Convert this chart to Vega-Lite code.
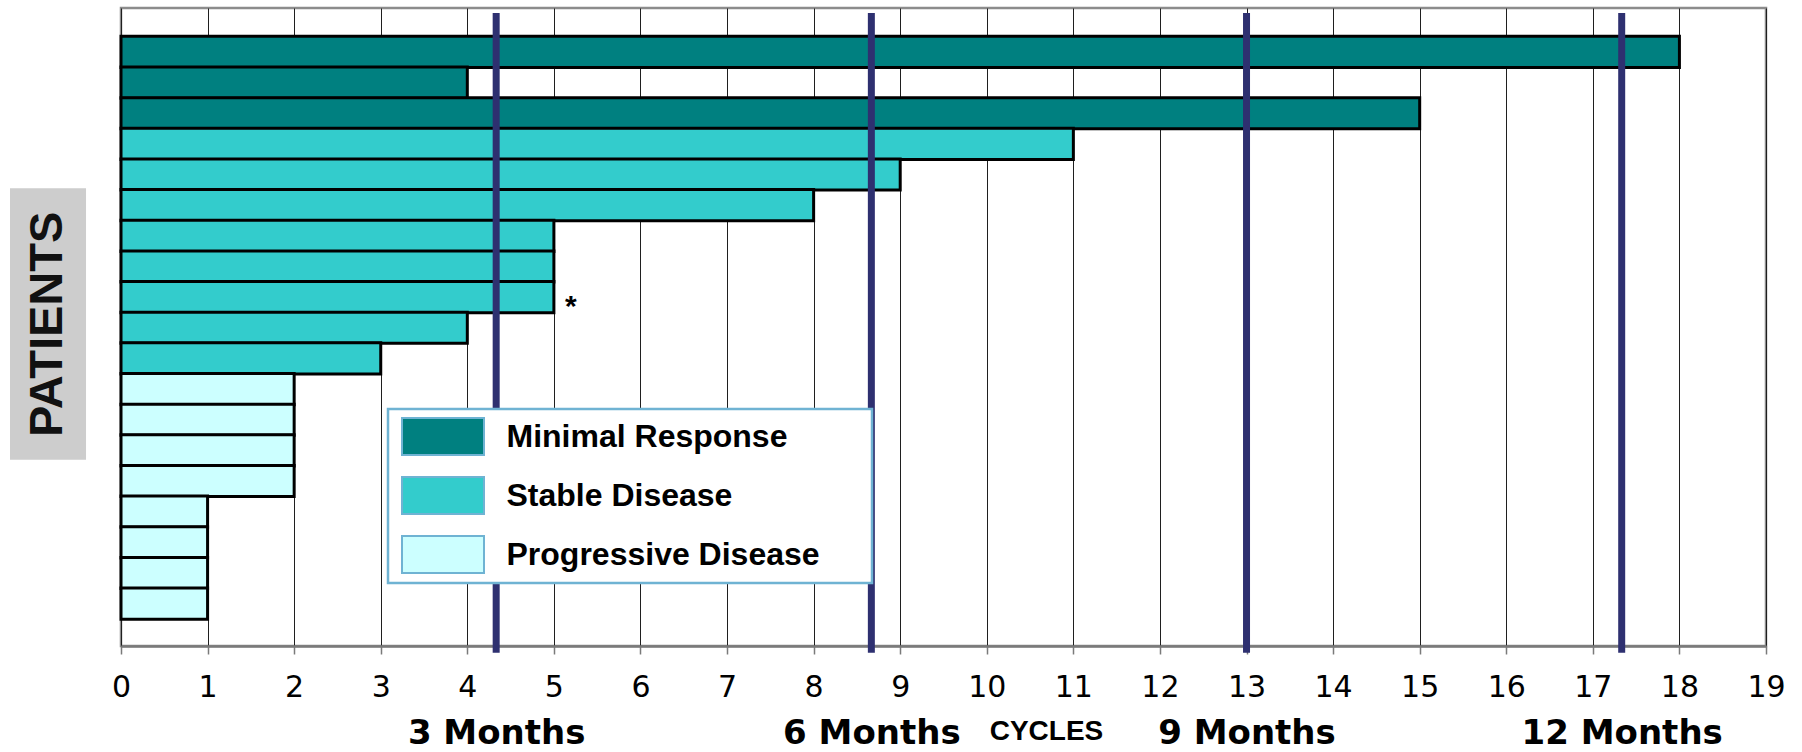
{
  "$schema": "https://vega.github.io/schema/vega-lite/v6.json",
  "width": 1645,
  "height": 638,
  "autosize": {"type": "none"},
  "padding": {"left": 121, "top": 8, "right": 36, "bottom": 106},
  "background": "white",
  "config": {
    "view": {"stroke": "#8c8c8c", "strokeWidth": 2.5},
    "legend": {"strokeColor": "#6fb3d3", "strokeWidth": 2.5, "fillColor": "white", "padding": 6}
  },
  "datasets": {
    "patients": [
      {"patient": 1, "cycles": 18, "response": "Minimal Response", "note": ""},
      {"patient": 2, "cycles": 4, "response": "Minimal Response", "note": ""},
      {"patient": 3, "cycles": 15, "response": "Minimal Response", "note": ""},
      {"patient": 4, "cycles": 11, "response": "Stable Disease", "note": ""},
      {"patient": 5, "cycles": 9, "response": "Stable Disease", "note": ""},
      {"patient": 6, "cycles": 8, "response": "Stable Disease", "note": ""},
      {"patient": 7, "cycles": 5, "response": "Stable Disease", "note": ""},
      {"patient": 8, "cycles": 5, "response": "Stable Disease", "note": ""},
      {"patient": 9, "cycles": 5, "response": "Stable Disease", "note": "*"},
      {"patient": 10, "cycles": 4, "response": "Stable Disease", "note": ""},
      {"patient": 11, "cycles": 3, "response": "Stable Disease", "note": ""},
      {"patient": 12, "cycles": 2, "response": "Progressive Disease", "note": ""},
      {"patient": 13, "cycles": 2, "response": "Progressive Disease", "note": ""},
      {"patient": 14, "cycles": 2, "response": "Progressive Disease", "note": ""},
      {"patient": 15, "cycles": 2, "response": "Progressive Disease", "note": ""},
      {"patient": 16, "cycles": 1, "response": "Progressive Disease", "note": ""},
      {"patient": 17, "cycles": 1, "response": "Progressive Disease", "note": ""},
      {"patient": 18, "cycles": 1, "response": "Progressive Disease", "note": ""},
      {"patient": 19, "cycles": 1, "response": "Progressive Disease", "note": ""}
    ],
    "milestones": [
      {"months": 3, "cycles": 4.3333},
      {"months": 6, "cycles": 8.6667},
      {"months": 9, "cycles": 13},
      {"months": 12, "cycles": 17.3333}
    ],
    "ylabel": [{"label": "PATIENTS"}]
  },
  "resolve": {"axis": {"x": "independent"}},
  "layer": [
    {
      "data": {"name": "ylabel"},
      "mark": {"type": "rect", "fill": "#cdcdcd"},
      "encoding": {
        "x": {"datum": -1.282, "type": "quantitative", "scale": {"domain": [0, 19], "nice": false, "zero": false}, "axis": null},
        "x2": {"datum": -0.404},
        "y": {"datum": 5.446, "type": "quantitative", "scale": {"domain": [-0.27, 20.22], "reverse": true, "nice": false, "zero": false}, "axis": null},
        "y2": {"datum": 14.31}
      }
    },
    {
      "data": {"name": "ylabel"},
      "mark": {"type": "text", "angle": 270, "font": "Liberation Sans", "fontSize": 47, "fontWeight": "bold", "color": "#111111", "align": "center", "baseline": "middle"},
      "encoding": {
        "x": {"datum": -0.843, "type": "quantitative", "scale": {"domain": [0, 19], "nice": false, "zero": false}, "axis": null},
        "y": {"datum": 9.89, "type": "quantitative", "scale": {"domain": [-0.27, 20.22], "reverse": true, "nice": false, "zero": false}, "axis": null},
        "text": {"field": "label"}
      }
    },
    {
      "data": {"name": "patients"},
      "mark": {"type": "bar", "height": 31.14, "stroke": "black", "strokeWidth": 3},
      "encoding": {
        "x": {
          "field": "cycles", "type": "quantitative",
          "scale": {"domain": [0, 19], "nice": false, "zero": false},
          "axis": {
            "orient": "bottom",
            "values": [0,1,2,3,4,5,6,7,8,9,10,11,12,13,14,15,16,17,18,19],
            "grid": true, "gridColor": "#1f1f1f", "gridWidth": 1,
            "domainColor": "#7a7a7a", "domainWidth": 2.5,
            "tickColor": "#7a7a7a", "tickWidth": 1.5, "tickSize": 8,
            "labelFont": "DejaVu Sans", "labelFontSize": 30, "labelColor": "black",
            "labelPadding": 18, "labelFlush": false, "labelOverlap": false,
            "title": "CYCLES", "titleFont": "Liberation Sans", "titleFontSize": 28,
            "titleFontWeight": "bold", "titleColor": "black",
            "titleX": 925, "titleY": 93, "titleBaseline": "alphabetic", "titleAlign": "center"
          }
        },
        "x2": {"datum": 0},
        "y": {"field": "patient", "type": "quantitative", "scale": {"domain": [-0.27, 20.22], "reverse": true, "nice": false, "zero": false}, "axis": null},
        "color": {
          "field": "response", "type": "nominal",
          "scale": {"domain": ["Minimal Response", "Stable Disease", "Progressive Disease"], "range": ["#008080", "#33cccc", "#ccffff"]},
          "legend": {
            "orient": "none", "legendX": 267, "legendY": 401, "title": null,
            "symbolType": "M-2,-0.9H2V0.9H-2Z", "symbolSize": 1681,
            "symbolStrokeColor": "#6fb3d3", "symbolStrokeWidth": 2,
            "symbolOffset": 27.5, "labelOffset": 42,
            "labelFont": "Liberation Sans", "labelFontSize": 32, "labelFontWeight": "bold", "labelColor": "black",
            "labelLimit": 600,
            "labelExpr": "datum.label + '\u2800\u2800'",
            "rowPadding": 14
          }
        }
      }
    },
    {
      "data": {"name": "milestones"},
      "mark": {"type": "rule", "color": "#2e3070", "strokeWidth": 7},
      "encoding": {
        "x": {
          "field": "cycles", "type": "quantitative",
          "scale": {"domain": [0, 19], "nice": false, "zero": false},
          "axis": {
            "orient": "bottom",
            "values": [4.3333, 8.6667, 13, 17.3333],
            "labelExpr": "round(datum.value * 9 / 13) + ' Months'",
            "grid": false, "domain": false, "ticks": false, "tickSize": 0,
            "labelPadding": 97, "labelBaseline": "alphabetic", "labelLimit": 400,
            "labelFont": "DejaVu Sans", "labelFontSize": 34, "labelFontWeight": "bold", "labelColor": "black",
            "labelOverlap": false, "labelFlush": false, "title": null
          }
        },
        "y": {"datum": -0.27, "type": "quantitative", "scale": {"domain": [-0.27, 20.22], "reverse": true, "nice": false, "zero": false}, "axis": null},
        "y2": {"datum": 20.6}
      }
    },
    {
      "data": {"name": "patients"},
      "transform": [{"filter": "datum.note !== ''"}],
      "mark": {"type": "text", "dx": 17, "dy": 10, "font": "Liberation Sans", "fontSize": 30, "fontWeight": "bold", "color": "black", "align": "center", "baseline": "middle"},
      "encoding": {
        "x": {"field": "cycles", "type": "quantitative", "scale": {"domain": [0, 19], "nice": false, "zero": false}, "axis": null},
        "y": {"field": "patient", "type": "quantitative", "scale": {"domain": [-0.27, 20.22], "reverse": true, "nice": false, "zero": false}, "axis": null},
        "text": {"field": "note"}
      }
    }
  ]
}
